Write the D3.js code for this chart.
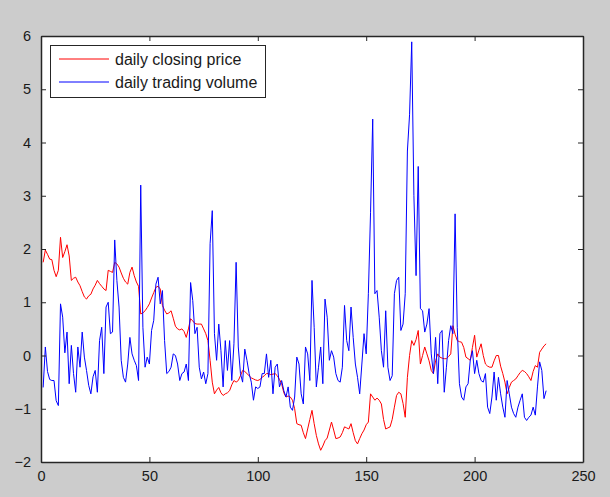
<!DOCTYPE html>
<html>
<head>
<meta charset="utf-8">
<script src="https://cdn.jsdelivr.net/npm/d3@7"></script>
<style>
  html, body { margin: 0; padding: 0; background: #cccccc; }
  svg { display: block; }
  text { font-family: "Liberation Sans", Arial, sans-serif; fill: #1a1a1a; }
</style>
</head>
<body>
<svg id="chart" width="610" height="497"></svg>
<script>
/* серии: день 1..233 */
var closingPrice = [
  1.75, 1.98, 1.90, 1.81, 1.80, 1.60, 1.48, 1.60, 2.22, 1.84,
  1.95, 2.08, 1.87, 1.41, 1.45, 1.47, 1.38, 1.31, 1.20, 1.10,
  1.06, 1.12, 1.15, 1.25, 1.32, 1.41, 1.35, 1.30, 1.25, 1.22,
  1.60, 1.58, 1.56, 1.75, 1.72, 1.66, 1.55, 1.45, 1.38, 1.34,
  1.56, 1.66, 1.50, 1.38, 1.30, 0.78, 0.80, 0.84, 0.90, 0.97,
  1.08, 1.18, 1.28, 1.30, 1.25, 0.94, 0.85, 0.78, 0.80, 0.84,
  0.70, 0.55, 0.50, 0.48, 0.50, 0.45, 0.34, 0.50, 0.69, 0.65,
  0.60, 0.59, 0.59, 0.59, 0.50, 0.41, 0.28, -0.09, -0.50, -0.72,
  -0.65, -0.60, -0.70, -0.75, -0.72, -0.70, -0.66, -0.55, -0.47, -0.50,
  -0.47, -0.38, -0.28, -0.30, -0.34, -0.38, -0.42, -0.44, -0.46, -0.47,
  -0.45, -0.41, -0.38, -0.34, -0.34, -0.36, -0.35, -0.34, -0.38, -0.45,
  -0.53, -0.70, -0.78, -0.76, -0.78, -0.84, -1.00, -1.28, -1.30, -1.31,
  -1.45, -1.56, -1.38, -1.20, -1.03, -1.28, -1.50, -1.66, -1.78, -1.70,
  -1.60, -1.55, -1.40, -1.25, -1.40, -1.56, -1.55, -1.53, -1.45, -1.34,
  -1.36, -1.38, -1.28, -1.45, -1.60, -1.66, -1.56, -1.47, -1.40, -1.30,
  -1.25, -0.72, -0.78, -0.84, -0.80, -0.84, -0.91, -1.20, -1.38, -1.36,
  -1.34, -1.20, -0.97, -0.75, -0.69, -0.72, -0.90, -1.16, -0.41, 0.00,
  0.28, 0.19, 0.30, 0.47, -0.16, 0.00, 0.16, 0.03, -0.10, -0.28,
  -0.34, -0.10, 0.03, -0.03, -0.05, -0.06, -0.06, -0.02, 0.03, 0.56,
  0.40, 0.28, 0.26, 0.25, 0.15, -0.03, -0.06, -0.09, 0.15, 0.38,
  -0.03, 0.10, 0.22, 0.00, -0.16, -0.20, -0.22, -0.22, -0.10, 0.00,
  0.00, -0.20, -0.34, -0.50, -0.72, -0.60, -0.50, -0.47, -0.44, -0.38,
  -0.32, -0.28, -0.30, -0.34, -0.40, -0.47, -0.30, -0.19, -0.22, 0.06,
  0.12, 0.18, 0.22
];

var tradingVolume = [
  -0.60, 0.16, -0.30, -0.45, -0.47, -0.47, -0.85, -0.94, 0.97, 0.72,
  0.05, 0.44, -0.53, 0.19, -0.34, -0.69, 0.16, -0.22, 0.44, -0.03,
  -0.28, -0.56, -0.72, -0.40, -0.28, -0.69, 0.28, 0.53, -0.34, 0.91,
  1.00, 0.41, 0.44, 2.17, 1.41, 0.91, -0.09, -0.41, -0.50, -0.16,
  0.34, 0.03, -0.09, -0.19, -0.47, 3.20, 0.53, -0.22, -0.03, -0.16,
  0.47, 0.66, 1.34, 1.47, 0.97, 1.22, 0.28, -0.34, -0.30, -0.22,
  0.03, 0.00, -0.16, -0.47, -0.34, -0.31, -0.16, -0.47, 1.37, 1.03,
  0.41, 0.53, -0.22, -0.44, -0.31, -0.53, -0.34, 2.10, 2.72, 0.41,
  -0.09, 0.59, 0.09, -0.59, 0.28, -0.28, 0.28, -0.47, 0.22, 1.75,
  0.16, -0.34, -0.50, 0.12, -0.09, -0.34, -0.50, -0.84, -0.59, -0.62,
  -0.59, -0.34, -0.34, 0.03, -0.41, -0.09, -0.72, -0.22, -0.16, -0.59,
  -0.47, -0.66, -0.78, -0.59, -0.97, -1.03, -0.78, -0.03, -0.16, -0.72,
  -0.91, 0.16, 0.03, -0.47, 1.41, 0.53, -0.59, -0.22, 0.16, -0.53,
  1.06, 0.72, -0.09, 0.09, -0.03, -0.34, -0.47, -0.50, -0.22, 0.94,
  0.28, 0.09, 0.91, 0.34, -0.16, -0.41, -0.72, -0.16, 0.41, 0.03,
  1.16, 2.68, 4.44, 1.16, 1.22, 0.72, 0.09, -0.22, 0.84, -0.22,
  -0.47, -0.38, 1.16, 1.41, 1.47, 0.47, 0.59, 1.16, 3.84, 4.52,
  5.89, 3.00, 1.50, 3.55, 0.88, 0.84, 0.44, 0.59, 0.88, 0.03,
  -0.34, 0.34, -0.53, 0.41, 0.47, -0.69, -0.22, 0.28, 0.56, 0.41,
  2.66, 0.53, -0.53, -0.78, -0.84, -0.59, -0.53, -0.09, 0.09, -0.34,
  -0.09, -0.34, -0.47, -0.50, -0.34, -0.97, -1.09, -0.78, -0.31, -0.84,
  -0.41, -0.72, -0.97, -1.16, -0.47, -0.72, -0.97, -1.09, -1.16, -0.97,
  -0.84, -0.72, -1.16, -1.22, -1.16, -1.12, -0.97, -1.12, -0.59, -0.12,
  -0.28, -0.81, -0.66
];

var xTicks = [0, 50, 100, 150, 200, 250];
var yTicks = [-2, -1, 0, 1, 2, 3, 4, 5, 6];
var seriesNames = ['daily closing price', 'daily trading volume'];
var seriesColors = ['#ff0000', '#0000ff'];

var Chart = {
    left: 41,
    right: 583,
    top: 36,
    bottom: 462,
    tickLen: 5,

    init: function() {
        this.svg = d3.select('#chart');
        this.x = d3.scaleLinear().domain([0, 250]).range([this.left, this.right]);
        this.y = d3.scaleLinear().domain([-2, 6]).range([this.bottom, this.top]);
        this.drawFrame();
        this.drawLines();
        this.drawAxes();
        this.drawLegend();
    },

    /*белая область графика*/
    drawFrame: function() {
        this.svg.append('rect')
            .attr('x', this.left).attr('y', this.top)
            .attr('width', this.right - this.left)
            .attr('height', this.bottom - this.top)
            .attr('fill', '#ffffff');
    },

    drawLines: function() {
        let x = this.x, y = this.y;
        let line = d3.line()
            .x((d, i) => x(i + 1))
            .y(d => y(d));
        let g = this.svg.append('g');
        [closingPrice, tradingVolume].forEach((s, k) => {
            g.append('path')
                .datum(s)
                .attr('d', line)
                .attr('fill', 'none')
                .attr('stroke', seriesColors[k])
                .attr('stroke-width', 1);
        });
    },

    /*оси с тиками внутрь, как в MATLAB*/
    drawAxes: function() {
        let tl = this.tickLen;
        let bottomAxis = d3.axisBottom(this.x).tickValues(xTicks).tickSizeInner(-tl).tickSizeOuter(0).tickPadding(9);
        let topAxis = d3.axisTop(this.x).tickValues(xTicks).tickSizeInner(-tl).tickSizeOuter(0).tickFormat('');
        let leftAxis = d3.axisLeft(this.y).tickValues(yTicks).tickSizeInner(-tl).tickSizeOuter(0).tickPadding(10);
        let rightAxis = d3.axisRight(this.y).tickValues(yTicks).tickSizeInner(-tl).tickSizeOuter(0).tickFormat('');

        let gb = this.svg.append('g').attr('transform', 'translate(0,' + this.bottom + ')').call(bottomAxis);
        let gt = this.svg.append('g').attr('transform', 'translate(0,' + this.top + ')').call(topAxis);
        let gl = this.svg.append('g').attr('transform', 'translate(' + this.left + ',0)').call(leftAxis);
        let gr = this.svg.append('g').attr('transform', 'translate(' + this.right + ',0)').call(rightAxis);

        [gb, gt, gl, gr].forEach(g => {
            g.select('.domain').attr('stroke', '#262626').attr('stroke-width', 1.5);
            g.selectAll('.tick line').attr('stroke', '#262626');
            g.selectAll('text').attr('font-size', 14.5).attr('fill', '#1a1a1a')
                .attr('font-family', '"Liberation Sans", Arial, sans-serif');
        });
    },

    drawLegend: function() {
        let g = this.svg.append('g');
        g.append('rect')
            .attr('x', 50.5).attr('y', 45.5)
            .attr('width', 215).attr('height', 52)
            .attr('fill', '#ffffff')
            .attr('stroke', '#262626').attr('stroke-width', 1);
        seriesNames.forEach((name, k) => {
            let yy = 59 + k * 23;
            g.append('line')
                .attr('x1', 59).attr('x2', 109)
                .attr('y1', yy).attr('y2', yy)
                .attr('stroke', seriesColors[k]).attr('stroke-width', 1);
            g.append('text')
                .attr('x', 115).attr('y', yy + 5.5)
                .attr('font-size', 16)
                .text(name);
        });
    }
};

Chart.init();
</script>
</body>
</html>
